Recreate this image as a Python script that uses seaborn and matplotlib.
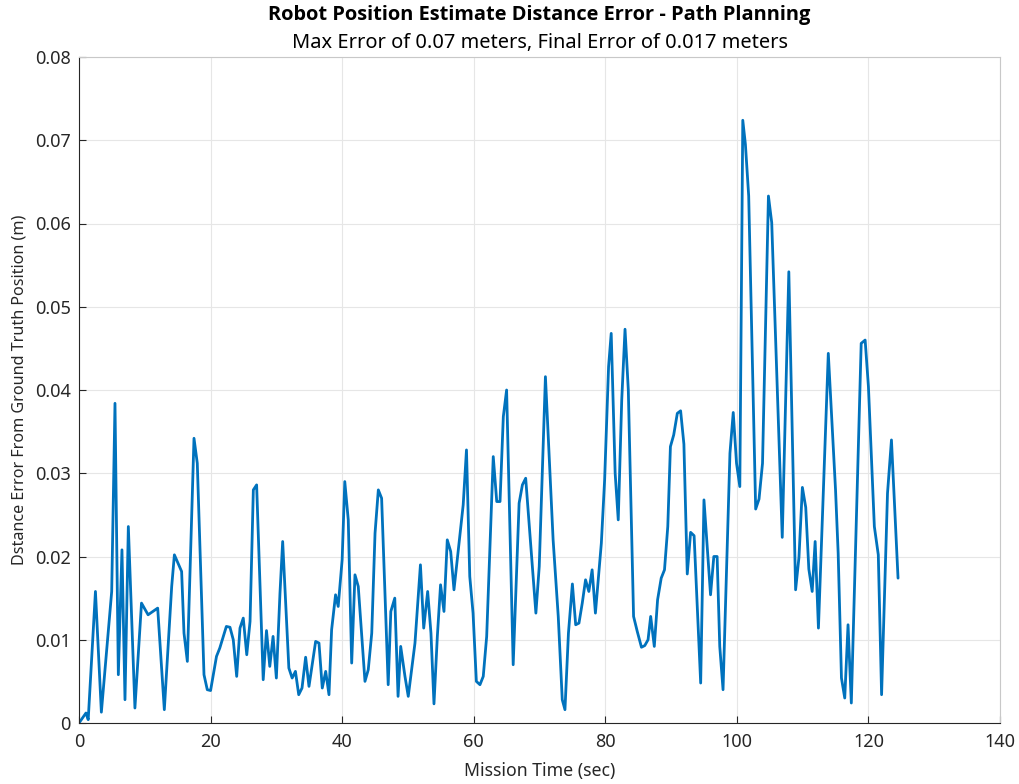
import matplotlib
matplotlib.use("Agg")
import matplotlib.pyplot as plt
import seaborn as sns
import pandas as pd

# Mission time stamps (s) and position estimate distance error (m)
mission_time = [
    0.0, 1.06, 1.4, 2.5, 3.4, 4.97, 5.47, 5.98, 6.53, 6.99, 7.5, 8.5, 9.5, 10.5,
    11.96, 12.97, 14.09, 14.5, 15.6, 15.96, 16.47, 17.48, 17.98, 19.0, 19.5, 20.0,
    20.9, 21.4, 22.4, 22.95, 23.45, 23.97, 24.47, 24.97, 25.5, 26.0, 26.5, 27.0,
    28.0, 28.5, 29.0, 29.5, 30.0, 30.55, 30.96, 31.9, 32.4, 32.9, 33.4, 33.9,
    34.45, 34.96, 35.97, 36.48, 36.98, 37.5, 38.0, 38.4, 39.0, 39.4, 40.0, 40.4,
    40.93, 41.45, 41.95, 42.45, 43.47, 43.97, 44.5, 45.0, 45.5, 46.0, 47.0, 47.4,
    48.0, 48.5, 48.9, 49.55, 50.05, 51.07, 51.9, 52.4, 53.0, 53.5, 53.96, 54.47,
    54.96, 55.48, 55.98, 56.5, 57.0, 58.4, 58.9, 59.4, 59.9, 60.4, 60.95, 61.45,
    61.97, 62.97, 63.5, 64.0, 64.5, 65.0, 66.0, 66.9, 67.4, 67.9, 69.45, 69.96,
    70.9, 72.07, 72.85, 73.46, 73.87, 74.4, 75.0, 75.5, 76.0, 76.5, 77.0, 77.5,
    78.0, 78.5, 79.4, 79.9, 80.5, 80.9, 81.5, 81.97, 82.5, 83.0, 83.5, 84.3,
    84.86, 85.5, 86.0, 86.5, 86.9, 87.45, 87.95, 88.5, 89.0, 89.5, 89.9, 90.4,
    90.95, 91.45, 91.95, 92.46, 92.97, 93.5, 94.5, 95.0, 96.0, 96.5, 97.0, 97.4,
    97.9, 98.95, 99.45, 99.95, 100.45, 100.9, 101.3, 101.8, 102.86, 103.37, 103.9,
    104.8, 105.3, 106.9, 107.9, 108.93, 109.44, 109.96, 110.47, 110.94, 111.45,
    111.9, 112.4, 113.9, 114.4, 115.0, 115.4, 115.9, 116.4, 116.9, 117.4, 118.9,
    119.5, 120.0, 120.9, 121.5, 122.0, 122.9, 123.5, 124.5,
]
distance_error = [
    0.0000, 0.0012, 0.0004, 0.0158, 0.0013, 0.0158, 0.0384, 0.0058, 0.0208, 0.0028,
    0.0236, 0.0018, 0.0144, 0.0130, 0.0138, 0.0016, 0.0164, 0.0202, 0.0182, 0.0108,
    0.0074, 0.0342, 0.0312, 0.0058, 0.0040, 0.0039, 0.0080, 0.0090, 0.0116, 0.0115,
    0.0100, 0.0056, 0.0114, 0.0126, 0.0082, 0.0122, 0.0280, 0.0286, 0.0052, 0.0111,
    0.0068, 0.0104, 0.0054, 0.0156, 0.0218, 0.0066, 0.0054, 0.0062, 0.0034, 0.0042,
    0.0079, 0.0044, 0.0098, 0.0096, 0.0042, 0.0062, 0.0034, 0.0112, 0.0154, 0.0140,
    0.0196, 0.0290, 0.0244, 0.0072, 0.0178, 0.0164, 0.0050, 0.0064, 0.0108, 0.0228,
    0.0280, 0.0270, 0.0046, 0.0134, 0.0150, 0.0032, 0.0092, 0.0056, 0.0032, 0.0096,
    0.0190, 0.0114, 0.0158, 0.0108, 0.0023, 0.0104, 0.0166, 0.0134, 0.0220, 0.0206,
    0.0160, 0.0262, 0.0328, 0.0176, 0.0132, 0.0050, 0.0046, 0.0056, 0.0104, 0.0320,
    0.0266, 0.0266, 0.0368, 0.0400, 0.0070, 0.0264, 0.0286, 0.0294, 0.0132, 0.0188,
    0.0416, 0.0220, 0.0128, 0.0028, 0.0016, 0.0108, 0.0167, 0.0118, 0.0120, 0.0144,
    0.0172, 0.0158, 0.0184, 0.0132, 0.0216, 0.0292, 0.0428, 0.0468, 0.0300, 0.0244,
    0.0388, 0.0473, 0.0400, 0.0128, 0.0110, 0.0091, 0.0093, 0.0100, 0.0128, 0.0092,
    0.0148, 0.0174, 0.0184, 0.0236, 0.0332, 0.0346, 0.0372, 0.0375, 0.0335, 0.0179,
    0.0229, 0.0225, 0.0048, 0.0268, 0.0154, 0.0200, 0.0200, 0.0092, 0.0040, 0.0324,
    0.0373, 0.0312, 0.0284, 0.0724, 0.0695, 0.0633, 0.0257, 0.0269, 0.0312, 0.0633,
    0.0601, 0.0223, 0.0542, 0.0160, 0.0199, 0.0283, 0.0259, 0.0185, 0.0158, 0.0218,
    0.0114, 0.0444, 0.0370, 0.0280, 0.0204, 0.0054, 0.0030, 0.0118, 0.0024, 0.0456,
    0.0460, 0.0404, 0.0236, 0.0202, 0.0034, 0.0276, 0.0340, 0.0174,
]
x_ticks = [0, 20, 40, 60, 80, 100, 120, 140]
y_ticks = [0, 0.01, 0.02, 0.03, 0.04, 0.05, 0.06, 0.07, 0.08]
y_tick_labels = ["0", "0.01", "0.02", "0.03", "0.04", "0.05", "0.06", "0.07", "0.08"]

sns.set_theme(style="whitegrid")
plt.rcParams["font.family"] = ["Noto Sans", "DejaVu Sans"]

df = pd.DataFrame({"time": mission_time, "error": distance_error})

W, H = 1020, 784
fig = plt.figure(figsize=(W / 100, H / 100), dpi=100, facecolor="white")
ax = fig.add_axes([79 / W, 1 - 723 / H, (1000 - 79) / W, (723 - 57) / H])
ax.set_facecolor("white")

sns.lineplot(data=df, x="time", y="error", ax=ax, sort=False, estimator=None,
             color="#0072BD", linewidth=2.0)

ax.set_xlim(0, 140)
ax.set_ylim(0, 0.08)
ax.set_xticks(x_ticks)
ax.set_yticks(y_ticks)
ax.set_yticklabels(y_tick_labels)

axis_color = "#262626"
for side in ["left", "bottom", "top", "right"]:
    ax.spines[side].set_visible(True)
    ax.spines[side].set_linewidth(0.8)
ax.spines["left"].set_color(axis_color)
ax.spines["bottom"].set_color(axis_color)
ax.spines["top"].set_color("#c8c8c8")
ax.spines["right"].set_color("#c8c8c8")
ax.grid(True, color="#e6e6e6", linewidth=0.8)
ax.tick_params(axis="both", direction="in", length=5, width=0.8, colors=axis_color,
               labelsize=13, top=False, right=False, left=True, bottom=True)
ax.tick_params(axis="x", pad=7)
ax.tick_params(axis="y", pad=6)

ax.set_xlabel("Mission Time (sec)", fontsize=12.7, color=axis_color)
ax.xaxis.set_label_coords(0.5, (723 - 771) / 666)
ax.xaxis.label.set_va("center")
ax.set_ylabel("Dstance Error From Ground Truth Position (m)", fontsize=11.6,
              color=axis_color)
ax.yaxis.set_label_coords((20 - 79) / 921, (723 - 390) / 666)
ax.yaxis.label.set_va("center")

cx = (79 + 1000) / 2 / W
fig.text(cx, 1 - 15 / H, "Robot Position Estimate Distance Error - Path Planning",
         ha="center", va="center", fontsize=14.4, fontweight="bold", color="black",
         family=["Open Sans", "Noto Sans", "DejaVu Sans"])
fig.text(cx, 1 - 43 / H, "Max Error of 0.07 meters, Final Error of 0.017 meters",
         ha="center", va="center", fontsize=14.4, color="black")

fig.savefig("out.png", dpi=100, facecolor="white")
